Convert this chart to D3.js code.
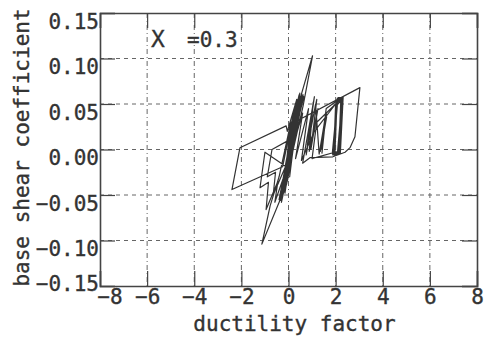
<!DOCTYPE html>
<html><head><meta charset="utf-8">
<script src="https://cdn.jsdelivr.net/npm/d3@7"></script>
<style>
html,body{margin:0;padding:0;background:#fff;}
svg{display:block;}
text{font-family:"DejaVu Sans Mono",monospace;fill:#333;}
</style></head>
<body>
<script>
const xTicks = [-8,-6,-4,-2,0,2,4,6,8];
const xTickLabels = ["\u22128","\u22126","\u22124","\u22122","0","2","4","6","8"];
const yTicks = [-0.15,-0.10,-0.05,0,0.05,0.10,0.15];
const yTickLabels = ["\u22120.15","\u22120.10","\u22120.05","0.00","0.05","0.10","0.15"];
const xTitle = "ductility factor";
const yTitle = "base shear coefficient";
const annotation = ["X", "=0.3"];

// hysteresis trace (ductility factor, base shear coefficient)
const ductility = [
 0,0.20,-0.15,0.30,-0.25,0.38,-0.30,
 0.45,1.02,0.62,0.20,-0.35,-1.13,-0.78,-0.40,
 0.10,-0.20,0.35,-0.05,
 -0.10,-2.06,-2.40,-0.25,
 0.25,-0.15,0.50,0.05,
 0.50,-0.10,0.42,-0.25,0.55,0.00,-0.40,0.35,-0.05,0.60,0.10,-0.30,0.28,-0.15,0.48,0.05,
 0.40,-0.18,0.53,-0.08,0.46,-0.28,0.57,-0.02,0.36,-0.33,0.50,0.08,
 -1.00,-1.21,-0.85,-0.95,-0.45,-0.58,-0.20,
 0.30,-0.10,0.45,0.00,
 -0.70,-0.90,-0.55,-0.65,-0.15,
 0.40,0.65,0.20,
 0.52,-0.22,0.58,-0.35,0.44,-0.12,0.62,0.02,
 0.47,-0.20,0.59,-0.06,0.39,-0.26,0.54,0.04,
 0.25,3.03,2.82,2.61,2.40,1.88,0.91,0.60,
 1.10,0.80,1.20,0.95,1.25,0.88,1.05,0.75,1.15,
 1.30,1.58,1.38,1.62,1.35,1.55,1.40,1.60,1.42,1.57,1.33,1.61,1.39,
 1.60,2.30,
 2.10,1.88,2.05,2.28,2.15,1.92,2.00,2.25,2.12,1.86,2.08,2.32,2.20,1.95,2.02,2.27,2.08,1.90,2.10,2.30,2.18,1.93,2.04,2.22,2.13,1.97,
 2.06,2.29,2.16,1.89,2.03,2.26,2.11,1.91,2.07,2.31,2.19,1.94,2.01,2.24,2.14,1.87,2.09,2.28,2.17,1.96,
 1.00,1.20,2.00,1.10,0.55,
 0.85,0.30,0.60,0.15,0.50,-0.20,0.40,0.05
];
const shearCoef = [
 0,0.030,-0.025,0.042,-0.035,0.050,-0.045,
 0.052,0.103,0.048,0.000,-0.055,-0.104,-0.062,-0.030,
 0.030,-0.040,0.055,0.020,
 0.026,0.002,-0.044,-0.019,
 0.045,-0.035,0.058,0.015,
 0.058,-0.040,0.052,-0.050,0.060,-0.020,-0.055,0.045,-0.035,0.057,-0.010,-0.058,0.040,-0.048,0.062,-0.030,
 0.050,-0.046,0.056,-0.038,0.054,-0.052,0.061,-0.030,0.046,-0.056,0.058,-0.022,
 -0.003,-0.042,-0.036,-0.066,-0.035,-0.058,-0.030,
 0.050,-0.030,0.060,0.010,
 0.000,-0.030,-0.025,-0.050,-0.020,
 0.055,0.058,0.010,
 0.056,-0.045,0.059,-0.052,0.050,-0.038,0.060,-0.015,
 0.055,-0.047,0.057,-0.035,0.048,-0.050,0.059,-0.020,
 0.030,0.068,0.014,0.002,-0.003,-0.008,-0.009,-0.015,
 0.058,0.005,0.055,0.000,0.045,-0.002,0.052,-0.006,0.050,
 -0.005,0.038,0.000,0.036,-0.002,0.035,0.002,0.040,-0.004,0.037,-0.001,0.039,0.001,
 0.045,0.058,
 -0.004,-0.006,0.055,0.057,-0.003,-0.005,0.050,0.056,-0.002,-0.004,0.056,0.058,-0.004,-0.006,0.053,0.055,-0.003,-0.003,0.057,0.057,-0.002,-0.005,0.048,0.054,-0.004,-0.004,
 0.054,0.056,-0.005,-0.003,0.051,0.055,-0.004,-0.006,0.056,0.057,-0.003,-0.004,0.049,0.053,-0.002,-0.005,0.055,0.056,-0.004,-0.003,
 -0.010,0.030,0.050,0.020,-0.012,
 0.045,-0.010,0.040,0.000,0.050,-0.040,0.045,0.005
];

const W = 487, H = 345;
const svg = d3.select("body").append("svg").attr("width", W).attr("height", H);
const x = d3.scaleLinear().domain([-8, 8]).range([100, 477]);
const y = d3.scaleLinear().domain([-0.15, 0.15]).range([286, 13]);
const gridCol = "#666", axisCol = "#444";

// grid
svg.append("g").selectAll("line").data(yTicks.filter(v => Math.abs(v) < 0.149)).join("line")
  .attr("x1", x(-8)).attr("x2", x(8)).attr("y1", d => y(d)).attr("y2", d => y(d))
  .attr("stroke", gridCol).attr("stroke-width", 1).attr("stroke-dasharray", "4,4");
svg.append("g").selectAll("line").data(xTicks.filter(v => Math.abs(v) < 7.9)).join("line")
  .attr("y1", y(0.15)).attr("y2", y(-0.15)).attr("x1", d => x(d)).attr("x2", d => x(d))
  .attr("stroke", gridCol).attr("stroke-width", 1).attr("stroke-dasharray", "5,3,1,3");

// axes (inner ticks on all sides)
const tickLen = 15;
const gB = svg.append("g").attr("transform", `translate(0,${y(-0.15)})`)
  .call(d3.axisBottom(x).tickValues(xTicks).tickSize(-tickLen).tickPadding(5)
        .tickFormat((d, i) => xTickLabels[i]));
const gT = svg.append("g").attr("transform", `translate(0,${y(0.15)})`)
  .call(d3.axisTop(x).tickValues(xTicks).tickSize(-tickLen).tickFormat(""));
const gL = svg.append("g").attr("transform", `translate(${x(-8)},0)`)
  .call(d3.axisLeft(y).tickValues(yTicks).tickSize(-tickLen).tickPadding(1)
        .tickFormat((d, i) => yTickLabels[i]));
const gR = svg.append("g").attr("transform", `translate(${x(8)},0)`)
  .call(d3.axisRight(y).tickValues(yTicks).tickSize(-tickLen).tickFormat(""));
[gB, gT, gL, gR].forEach(g => {
  g.select(".domain").attr("stroke", axisCol).attr("stroke-width", 1.6);
  g.selectAll(".tick line").attr("stroke", axisCol).attr("stroke-width", 1.2);
  g.selectAll("text").attr("font-family", "DejaVu Sans Mono").attr("font-size", 21)
    .attr("fill", "#333").attr("stroke", "#333").attr("stroke-width", 0.35);
});
gB.selectAll(".tick text").attr("dy", "0.62em")
  .attr("dx", (d) => d <= -7.9 ? "0.45em" : "0");
gL.selectAll(".tick text").attr("dy", (d) => d <= -0.149 ? "0.22em" : "0.72em");

// hysteresis curve
const pts = ductility.map((d, i) => [d, shearCoef[i]]);
svg.append("path").datum(pts)
  .attr("d", d3.line().x(d => x(d[0])).y(d => y(d[1])))
  .attr("fill", "none").attr("stroke", "#333").attr("stroke-width", 1.2)
  .attr("stroke-linejoin", "round");

// annotation
svg.append("text").attr("x", 151).attr("y", 47)
  .attr("font-family", "DejaVu Sans").attr("font-size", 23)
  .attr("stroke", "#333").attr("stroke-width", 0.3).text(annotation[0]);
svg.append("text").attr("x", 187).attr("y", 47)
  .attr("font-size", 21).attr("stroke", "#333").attr("stroke-width", 0.35).text(annotation[1]);

// titles
svg.append("text").attr("x", x(0) + 6).attr("y", 331).attr("text-anchor", "middle")
  .attr("font-size", 21).attr("stroke", "#333").attr("stroke-width", 0.35).text(xTitle);
svg.append("text").attr("transform", `translate(29,${y(0) - 2}) rotate(-90)`)
  .attr("text-anchor", "middle").attr("font-size", 21)
  .attr("stroke", "#333").attr("stroke-width", 0.35).text(yTitle);
</script>
</body></html>
